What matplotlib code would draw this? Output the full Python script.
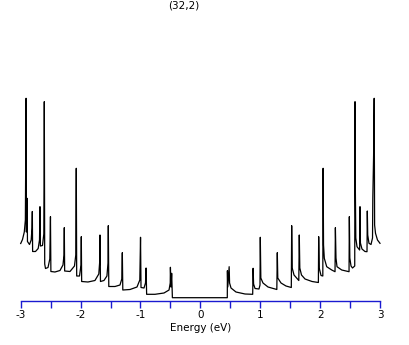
#coding=utf8

import numpy as np
import matplotlib
matplotlib.use("Agg")
import matplotlib.pyplot as plt

title = "(32,2)"

# density of states (arbitrary units)
energy = [-3.000, -2.970, -2.940, -2.922, -2.914, -2.910, -2.905, -2.893, -2.887, -2.853,
          -2.825, -2.811, -2.806, -2.801, -2.753, -2.708, -2.686, -2.678, -2.671, -2.636,
          -2.614, -2.609, -2.606, -2.599, -2.586, -2.544, -2.514, -2.503, -2.496, -2.428,
          -2.344, -2.294, -2.277, -2.272, -2.266, -2.177, -2.102, -2.080, -2.077, -2.072,
          -2.065, -2.018, -1.993, -1.988, -1.982, -1.877, -1.760, -1.696, -1.681, -1.676,
          -1.668, -1.610, -1.560, -1.542, -1.537, -1.529, -1.425, -1.342, -1.312, -1.303,
          -1.295, -1.175, -1.058, -1.011, -0.999, -0.991, -0.941, -0.916, -0.906, -0.897,
          -0.757, -0.607, -0.523, -0.503, -0.500, -0.490, -0.479, -0.467,
          0.450, 0.452, 0.458, 0.481, 0.488, 0.512, 0.595, 0.746, 0.874, 0.881,
          0.889, 0.913, 0.979, 0.996, 1.001, 1.010, 1.046, 1.130, 1.277, 1.285,
          1.293, 1.347, 1.430, 1.519, 1.525, 1.534, 1.564, 1.644, 1.652, 1.661,
          1.689, 1.748, 1.865, 1.971, 1.976, 1.985, 2.015, 2.045, 2.050, 2.057,
          2.070, 2.110, 2.194, 2.249, 2.255, 2.265, 2.282, 2.361, 2.483, 2.488,
          2.496, 2.516, 2.541, 2.578, 2.583, 2.588, 2.596, 2.616, 2.660, 2.666,
          2.673, 2.699, 2.749, 2.783, 2.788, 2.795, 2.816, 2.850, 2.875, 2.880,
          2.893, 2.903, 2.910, 2.925, 2.958, 3.000]

dos = [0.572, 0.612, 0.687, 0.807, 1.577, 2.024, 0.687, 1.024, 0.592, 0.562,
       0.607, 0.727, 0.892, 0.492, 0.492, 0.522, 0.607, 0.940, 0.547, 0.552,
       0.667, 1.140, 1.990, 0.367, 0.322, 0.332, 0.417, 0.840, 0.292, 0.287,
       0.302, 0.357, 0.457, 0.730, 0.297, 0.292, 0.347, 0.457, 0.807, 1.324,
       0.247, 0.247, 0.357, 0.640, 0.192, 0.187, 0.202, 0.267, 0.387, 0.657,
       0.192, 0.202, 0.247, 0.377, 0.750, 0.142, 0.142, 0.157, 0.217, 0.480,
       0.107, 0.112, 0.137, 0.207, 0.634, 0.132, 0.127, 0.177, 0.327, 0.064,
       0.064, 0.077, 0.107, 0.177, 0.334, 0.137, 0.274, 0.030,
       0.030, 0.300, 0.137, 0.340, 0.177, 0.127, 0.087, 0.067, 0.064, 0.324,
       0.167, 0.122, 0.117, 0.157, 0.634, 0.227, 0.177, 0.137, 0.112, 0.480,
       0.227, 0.177, 0.147, 0.132, 0.750, 0.327, 0.257, 0.202, 0.657, 0.327,
       0.257, 0.217, 0.192, 0.182, 0.640, 0.327, 0.252, 0.247, 1.324, 0.557,
       0.424, 0.340, 0.307, 0.290, 0.730, 0.427, 0.340, 0.307, 0.290, 0.840,
       0.427, 0.347, 0.327, 0.347, 1.990, 1.140, 0.627, 0.540, 0.507, 0.940,
       0.577, 0.517, 0.492, 0.490, 0.897, 0.657, 0.574, 0.562, 0.627, 1.024,
       1.450, 2.024, 0.757, 0.674, 0.607, 0.574]

xticks = [-3, -2, -1, 0, 1, 2, 3]
xticks_minor = [-2.5, -1.5, -0.5, 0.5, 1.5, 2.5]

x = np.array(energy)
y = np.array(dos)

fig = plt.figure(figsize=(4.09, 3.45), dpi=100)
ax = fig.add_axes([20.7/409, (345-300.7)/345, (380-20.7)/409, 280.7/345])

ax.plot(x, y, color='black', lw=0.9, clip_on=False)

ax.set_xlim(-3, 3)
ax.set_ylim(0, 2.807)

for s in ['top', 'left', 'right']:
    ax.spines[s].set_visible(False)
ax.spines['bottom'].set_color('#1a1ad0')
ax.spines['bottom'].set_linewidth(1.0)

ax.set_yticks([])
ax.set_xticks(xticks)
ax.set_xticklabels(['%d' % t for t in xticks])
ax.set_xticks(xticks_minor, minor=True)
ax.tick_params(axis='x', which='both', direction='out', color='#1a1ad0',
               length=5, width=1.0, labelsize=7.5, pad=2)

ax.set_xlabel('Energy (eV)', fontsize=7.5, labelpad=2)
fig.text(183.5/409, 1 - 6/345, title, ha='center', va='center', fontsize=7.5)

plt.savefig('out.png', dpi=100)
plt.close()
